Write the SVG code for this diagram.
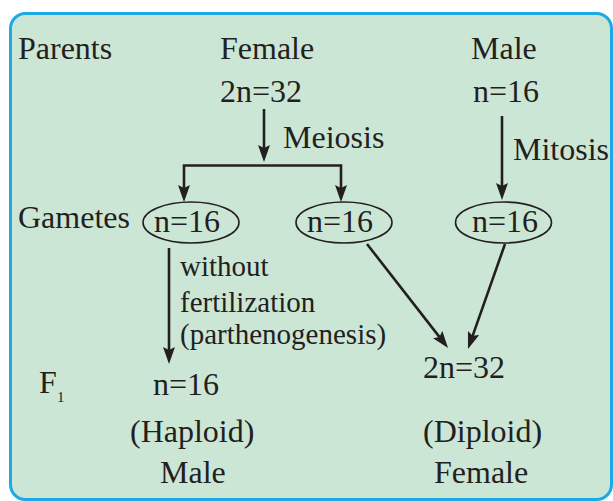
<svg xmlns="http://www.w3.org/2000/svg" width="613" height="501" viewBox="0 0 613 501">
<style>
text{font-family:'Liberation Serif','DejaVu Serif',serif;font-size:32px;fill:#231f20}
.sm{font-size:29px}
.ln{fill:none;stroke:#231f20;stroke-width:2.6;marker-end:url(#ah)}
.el{fill:none;stroke:#231f20;stroke-width:1.6}
</style>
<defs>
<marker id="ah" markerUnits="userSpaceOnUse" viewBox="0 0 17 12" markerWidth="17" markerHeight="12" refX="7" refY="6" orient="auto">
<path d="M0,0 L17,6 L0,12 L3,6 z" fill="#231f20"/>
</marker>
</defs>
<rect x="10.5" y="13.5" width="601" height="486" rx="15" ry="15" fill="#cce6d6" stroke="#1da9e6" stroke-width="3"/>
<g id="labels">
<text x="18" y="59">Parents</text>
<text x="18" y="228">Gametes</text>
<text x="39" y="393">F</text>
<text x="57" y="402" style="font-size:15px">1</text>
</g>
<g id="female-parent">
<text x="220" y="59">Female</text>
<text x="220" y="102">2n=32</text>
</g>
<g id="male-parent">
<text x="471" y="59">Male</text>
<text x="473" y="102">n=16</text>
</g>
<g id="gamete-1">
<ellipse class="el" cx="191" cy="222.5" rx="48" ry="20.5"/>
<text x="154" y="232">n=16</text>
</g>
<g id="gamete-2">
<ellipse class="el" cx="344" cy="222.5" rx="48" ry="20.5"/>
<text x="307" y="232">n=16</text>
</g>
<g id="gamete-3">
<ellipse class="el" cx="503.5" cy="222.5" rx="48" ry="20.5"/>
<text x="472" y="232">n=16</text>
</g>
<g id="offspring-male">
<text x="153" y="395">n=16</text>
<text x="130" y="442">(Haploid)</text>
<text x="160" y="483">Male</text>
</g>
<g id="offspring-female">
<text x="423" y="378">2n=32</text>
<text x="423" y="442">(Diploid)</text>
<text x="434" y="483">Female</text>
</g>
<g id="connectors">
<path class="ln" d="M264,109 V152"/>
<path class="ln" d="M264,165.5 H184 V192"/>
<path class="ln" d="M264,165.5 H341 V192"/>
<path class="ln" d="M502,116 V190"/>
<path class="ln" d="M169,248 V354"/>
<path class="ln" d="M367,244 L441.9,340.1"/>
<path class="ln" d="M505,244 L471.3,339.6"/>
<text x="283" y="148">Meiosis</text>
<text x="513" y="160">Mitosis</text>
<text class="sm" x="180" y="276">without</text>
<text class="sm" x="180" y="312">fertilization</text>
<text class="sm" x="180" y="344">(parthenogenesis)</text>
</g>
</svg>
